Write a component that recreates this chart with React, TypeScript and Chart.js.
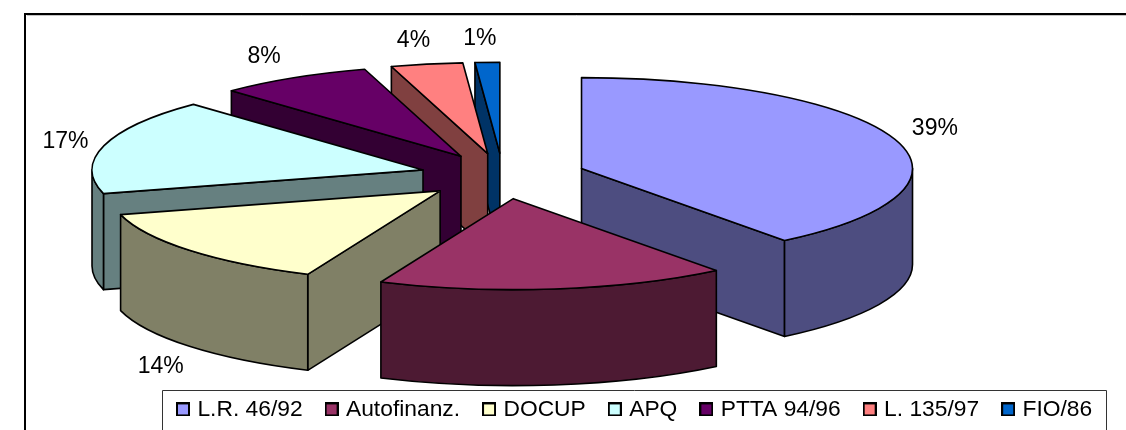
import React, { useEffect, useRef } from "react";
import { Chart, registerables } from "chart.js";

Chart.register(...registerables);

const categories = ["L.R. 46/92", "Autofinanz.", "DOCUP", "APQ", "PTTA 94/96", "L. 135/97", "FIO/86"];
const shares = [39.49, 17.06, 14.25, 17.0, 7.5, 3.5, 1.2];
const sliceLabels = ["39%", "", "14%", "17%", "8%", "4%", "1%"];
const topColors = ["#9999FF", "#993366", "#FFFFCC", "#CCFFFF", "#660066", "#FF8080", "#0066CC"];

const FONT = '"Liberation Sans", Arial, sans-serif';
const FONT_SIZE = 23;
const LEGEND_FONT_SIZE = 22.8;
const view = { cx: 503, cy: 176, radius: 331, squash: 91 / 331, depth: 96, explode: 83 };
const labelGap = { x: 42, y: 24 };
const labelNudgeX = [0.5, 0, 3, 2, -8, -5.5, -6];
const labelNudgeY = [-3, 0, 5, 2, 0, 0, 0];
const legendBox = { left: 162, top: 390, right: 1106, bottom: 430, swatch: 14 };

function darker(hex: string): string {
  const n = parseInt(hex.slice(1), 16);
  const half = (v: number) => Math.round(v / 2);
  return `rgb(${half((n >> 16) & 255)},${half((n >> 8) & 255)},${half(n & 255)})`;
}

function swatch(color: string): HTMLCanvasElement {
  const s = legendBox.swatch;
  const c = document.createElement("canvas");
  c.width = s;
  c.height = s;
  const g = c.getContext("2d")!;
  g.fillStyle = color;
  g.fillRect(0, 0, s, s);
  g.strokeStyle = "#000";
  g.lineWidth = 2;
  g.strokeRect(1, 1, s - 2, s - 2);
  return c;
}

const pie3d = {
  id: "pie3d",
  afterLayout(chart: any) {
    const lg = chart.legend;
    lg.left = legendBox.left - 8;
    lg.right = chart.width;
    lg.top = legendBox.top - 18;
  },
  beforeDraw(chart: any) {
    const ctx = chart.ctx;
    ctx.save();
    ctx.fillStyle = "#fff";
    ctx.fillRect(0, 0, chart.width, chart.height);
    ctx.strokeStyle = "#c4c4c4";
    ctx.lineWidth = 1;
    ctx.beginPath();
    ctx.moveTo(27, 15.5);
    ctx.lineTo(chart.width, 15.5);
    ctx.stroke();
    ctx.strokeStyle = "#000";
    ctx.lineWidth = 2;
    ctx.beginPath();
    ctx.moveTo(25, chart.height);
    ctx.lineTo(25, 14);
    ctx.lineTo(chart.width, 14);
    ctx.stroke();
    ctx.strokeStyle = "#333";
    ctx.lineWidth = 1;
    ctx.beginPath();
    ctx.moveTo(legendBox.left + 0.5, legendBox.bottom);
    ctx.lineTo(legendBox.left + 0.5, legendBox.top + 0.5);
    ctx.lineTo(legendBox.right + 0.5, legendBox.top + 0.5);
    ctx.lineTo(legendBox.right + 0.5, legendBox.bottom);
    ctx.stroke();
    ctx.restore();
  },
  beforeDatasetsDraw(chart: any) {
    const ctx = chart.ctx;
    const meta = chart.getDatasetMeta(0);
    const { cx, cy, squash, depth, explode } = view;

    const geometry = meta.data.map((el: any, i: number) => {
      const mid = (el.startAngle + el.endAngle) / 2;
      return {
        el,
        i,
        mid,
        start: el.startAngle,
        end: el.endAngle,
        r: el.outerRadius,
        ax: cx + Math.cos(mid) * explode,
        ay: cy + Math.sin(mid) * explode * squash,
      };
    });
    // back slices first
    const order = [...geometry].sort((a, b) => Math.sin(a.mid) - Math.sin(b.mid));

    const rimX = (g: any, a: number) => g.ax + Math.cos(a) * g.r;
    const rimY = (g: any, a: number) => g.ay + Math.sin(a) * g.r * squash;

    ctx.save();
    ctx.lineJoin = "round";
    ctx.strokeStyle = "#000";
    ctx.lineWidth = 1.6;

    for (const g of order) {
      const wall = darker(topColors[g.i]);
      ctx.fillStyle = wall;

      const cut = (a: number) => {
        ctx.beginPath();
        ctx.moveTo(g.ax, g.ay);
        ctx.lineTo(rimX(g, a), rimY(g, a));
        ctx.lineTo(rimX(g, a), rimY(g, a) + depth);
        ctx.lineTo(g.ax, g.ay + depth);
        ctx.closePath();
        ctx.fill();
        ctx.stroke();
      };
      // a cut face shows only when it turns toward the viewer
      if (Math.cos(g.start) < -1e-6) cut(g.start);
      if (Math.cos(g.end) > 1e-6) cut(g.end);

      // outer wall: only the lower half of the rim faces the viewer
      const a0 = Math.max(g.start, 0);
      const a1 = Math.min(g.end, Math.PI);
      if (a1 > a0) {
        ctx.beginPath();
        ctx.ellipse(g.ax, g.ay, g.r, g.r * squash, 0, a0, a1, false);
        ctx.ellipse(g.ax, g.ay + depth, g.r, g.r * squash, 0, a1, a0, true);
        ctx.closePath();
        ctx.fill();
        ctx.stroke();
      }

      // top face, drawn by the library's own arc element
      ctx.save();
      ctx.translate(g.ax, g.ay);
      ctx.scale(1, squash);
      ctx.translate(-g.el.x, -g.el.y);
      g.el.draw(ctx, chart.chartArea);
      ctx.restore();

      ctx.beginPath();
      ctx.moveTo(g.ax, g.ay);
      ctx.ellipse(g.ax, g.ay, g.r, g.r * squash, 0, g.start, g.end, false);
      ctx.closePath();
      ctx.stroke();
    }

    ctx.fillStyle = "#000";
    ctx.font = `${FONT_SIZE}px ${FONT}`;
    ctx.textAlign = "center";
    ctx.textBaseline = "middle";
    for (const g of geometry) {
      const text = sliceLabels[g.i];
      if (!text) continue;
      const c = Math.cos(g.mid);
      const s = Math.sin(g.mid);
      const drop = s > 0 ? depth : 0;
      ctx.fillText(
        text,
        rimX(g, g.mid) + c * labelGap.x + labelNudgeX[g.i],
        rimY(g, g.mid) + s * labelGap.y + drop + labelNudgeY[g.i]
      );
    }
    ctx.restore();
    return false;
  },
};

export default function App() {
  const ref = useRef<HTMLCanvasElement>(null);
  useEffect(() => {
    const chart = new Chart(ref.current!, {
      type: "pie",
      data: {
        labels: categories,
        datasets: [{ data: shares, backgroundColor: topColors, borderWidth: 0 }],
      },
      options: {
        animation: false,
        responsive: false,
        events: [],
        radius: view.radius,
        layout: { padding: 0 },
        plugins: {
          tooltip: { enabled: false },
          legend: {
            display: true,
            position: "bottom",
            align: "start",
            labels: {
              color: "#000",
              font: { family: FONT, size: LEGEND_FONT_SIZE },
              usePointStyle: true,
              boxWidth: 6,
              boxHeight: 6,
              padding: 26,
              generateLabels: () =>
                categories.map((text, i) => ({
                  text,
                  fontColor: "#000",
                  fillStyle: topColors[i],
                  strokeStyle: "#000",
                  lineWidth: 1,
                  pointStyle: swatch(topColors[i]),
                  hidden: false,
                  index: i,
                })),
            },
          },
        },
      } as any,
      plugins: [pie3d],
    });
    return () => chart.destroy();
  }, []);
  return (
    <canvas
      ref={ref}
      width={1126}
      height={430}
      style={{ position: "absolute", left: 0, top: 0, display: "block" }}
    />
  );
}
